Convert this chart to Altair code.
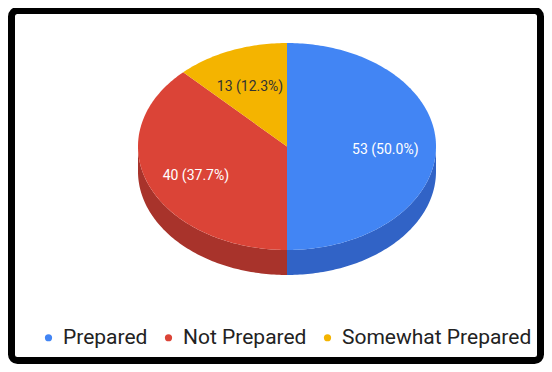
import math
import numpy as np
import pandas as pd
import altair as alt

# ---- data ----
categories = ["Prepared", "Not Prepared", "Somewhat Prepared"]
values = [53, 40, 13]
top_colors = ["#4285F4", "#DB4437", "#F4B400"]
side_colors = ["#3163C6", "#A8332B", "#B88A00"]
label_colors = ["#FFFFFF", "#FFFFFF", "#333333"]

# ---- layout (pixels) ----
W, H = 536, 356
CX, CY = 279, 138.5      # centre of the pie's top face
RX, RY = 149, 103.5      # ellipse radii of the top face
DEPTH = 25               # visible thickness of the 3D pie
LABEL_R = 0.66           # label distance as a fraction of the radius

total = sum(values)
fracs = [v / total for v in values]
starts = np.concatenate([[0.0], np.cumsum(fracs)[:-1]]) * 360.0
ends = starts + np.array(fracs) * 360.0
drop = DEPTH / RY


def arc(a0, a1, dy=0.0):
    n = max(2, int(math.ceil(a1 - a0)))
    return [(math.sin(math.radians(a)), math.cos(math.radians(a)) - dy)
            for a in np.linspace(a0, a1, n + 1)]


top_rows, side_rows, label_rows = [], [], []
for k, (cat, a0, a1) in enumerate(zip(categories, starts, ends)):
    pts = [(0.0, 0.0)] + arc(a0, a1) + [(0.0, 0.0)]
    for i, (x, y) in enumerate(pts):
        top_rows.append(dict(cat=cat, i=i, x=x, y=y))
    s0, s1 = max(a0, 90.0), min(a1, 270.0)
    if s1 > s0:
        spts = arc(s0, s1) + arc(s0, s1, drop)[::-1]
        spts.append(spts[0])
        for i, (x, y) in enumerate(spts):
            side_rows.append(dict(cat=cat, i=i, x=x, y=y))
    mid = math.radians((a0 + a1) / 2)
    label_rows.append(dict(
        cat=cat,
        x=LABEL_R * math.sin(mid),
        y=LABEL_R * math.cos(mid),
        label=f"{values[k]} ({100 * values[k] / total:.1f}%)",
        tcolor=label_colors[k],
    ))

top_df = pd.DataFrame(top_rows)
side_df = pd.DataFrame(side_rows)
label_df = pd.DataFrame(label_rows)

xs = alt.Scale(domain=[-CX / RX, (W - CX) / RX], nice=False, zero=False)
ys = alt.Scale(domain=[-(H - CY) / RY, CY / RY], nice=False, zero=False)
X = alt.X("x:Q", scale=xs, axis=None)
Y = alt.Y("y:Q", scale=ys, axis=None)

side = alt.Chart(side_df).mark_line(filled=True, strokeWidth=0).encode(
    x=X, y=Y, order="i:Q", detail="cat:N",
    fill=alt.Fill("cat:N", scale=alt.Scale(domain=categories, range=side_colors), legend=None),
)

top = alt.Chart(top_df).mark_line(filled=True, strokeWidth=0).encode(
    x=X, y=Y, order="i:Q", detail="cat:N",
    color=alt.Color(
        "cat:N",
        scale=alt.Scale(domain=categories, range=top_colors),
        sort=categories,
        legend=alt.Legend(
            title=None, orient="none", legendX=30, legendY=319,
            direction="horizontal", symbolType="circle", symbolSize=52,
            symbolStrokeWidth=0, labelFont="Roboto", labelFontSize=21,
            labelColor="#222222", labelOffset=4, columnPadding=10,
            labelLimit=400, padding=0,
        ),
    ),
)

labels = alt.Chart(label_df).mark_text(font="Roboto", fontSize=14, dy=3.5).encode(
    x=X, y=Y, text="label:N",
    color=alt.Color("tcolor:N", scale=None),
)

border = alt.Chart(pd.DataFrame({"d": [0]})).mark_rect(
    fill="transparent", stroke="#000000", strokeWidth=7, cornerRadius=6
).encode(
    x=alt.value(3.5), x2=alt.value(W - 3.5), y=alt.value(2.5), y2=alt.value(H - 3.5)
)

chart = (
    alt.layer(side, top, labels, border)
    .resolve_scale(color="independent")
    .properties(width=W, height=H, padding=0, autosize=alt.AutoSizeParams(type="none"),
                background="#FFFFFF")
    .configure_view(stroke=None)
)

chart.save("out.html", embed_options={"renderer": "svg", "actions": False})
